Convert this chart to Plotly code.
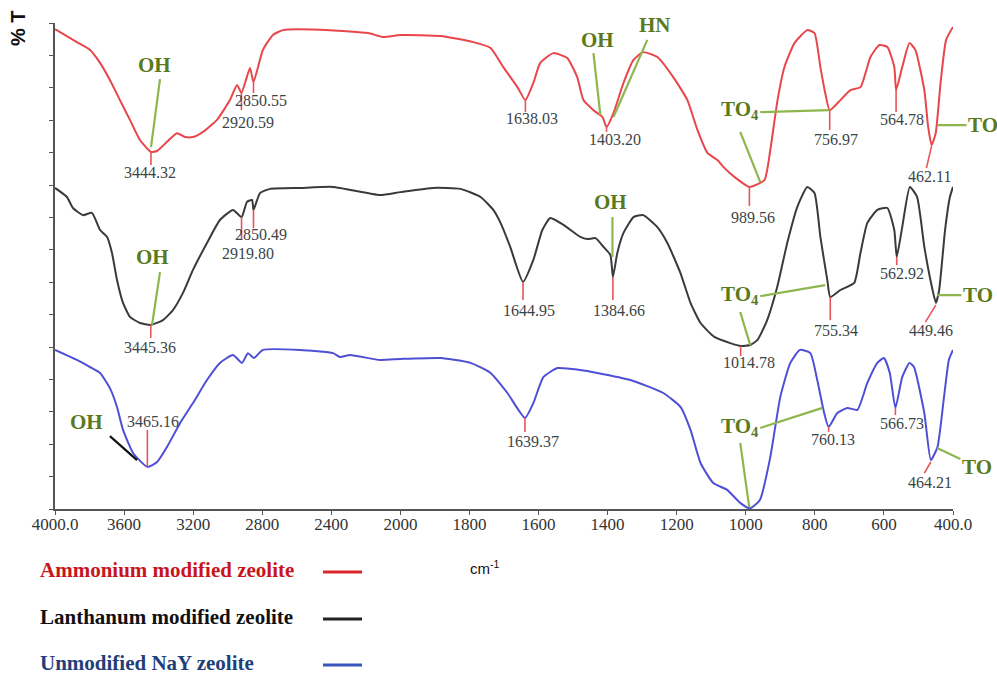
import plotly.graph_objects as go

# ---------------- data (wavenumber cm-1, transmittance in arbitrary %T units) ----------------
wn_ammonium = [4000, 3873, 3797, 3739, 3682, 3624, 3566, 3508, 3444.32, 3409, 3352, 3294, 3247, 3201,
               3143, 3062, 2987, 2946, 2920.59, 2871, 2850.55, 2796, 2738, 2680, 2408, 2188, 2101, 2000,
               1884, 1789, 1739, 1702, 1661, 1638.03, 1615, 1595, 1557, 1517, 1488, 1470, 1441, 1415,
               1403.20, 1383, 1354, 1325, 1297, 1256, 1210, 1169, 1140, 1111, 1082, 1065, 1033, 989.56,
               946, 929, 908, 888, 859, 822, 801, 784, 770, 756.97, 726, 697, 668, 639, 613, 590, 570,
               564.78, 547, 526, 509, 483, 472, 462.11, 450, 436, 420, 400]
t_ammonium = [148.1, 144.1, 141.7, 137.7, 132.4, 126.2, 120.1, 113.9, 110.2, 110.5, 113.3, 116.0, 114.8, 114.8,
              116.4, 120.1, 126.2, 130.9, 128.4, 136.1, 131.8, 141.7, 146.3, 147.8, 147.8, 146.9, 145.7, 146.3,
              146.0, 144.1, 142.3, 136.4, 130.2, 126.2, 131.5, 137.7, 140.7, 139.2, 133.3, 126.2, 123.1, 121.0,
              117.9, 122.2, 131.5, 138.6, 141.0, 139.5, 133.3, 126.2, 117.0, 109.9, 107.7, 105.6, 102.5, 99.4,
              101.5, 110.8, 126.2, 136.4, 143.8, 147.8, 146.9, 136.4, 128.4, 123.1, 126.2, 129.3, 130.2, 139.5,
              143.2, 142.6, 136.4, 129.3, 136.4, 143.8, 141.7, 129.3, 118.0, 112.3, 116.0, 131.5, 144.8, 148.8]

wn_lanthanum = [4000, 3931, 3896, 3838, 3786, 3739, 3699, 3670, 3641, 3606, 3566, 3508, 3445.36, 3375, 3317,
                3259, 3201, 3120, 3045, 2969, 2919.80, 2888, 2859, 2850.49, 2813, 2755, 2581, 2390, 2118,
                2000, 1904, 1826, 1768, 1731, 1710, 1682, 1644.95, 1615, 1589, 1566, 1528, 1479, 1459,
                1435, 1412, 1392, 1384.66, 1372, 1354, 1325, 1297, 1256, 1227, 1189, 1160, 1131, 1091, 1045,
                1014.78, 987, 966, 938, 909, 880, 851, 822, 801, 784, 764, 755.34, 726, 686, 668, 648, 619,
                590, 570, 562.92, 547, 525, 504, 483, 460, 449.46, 440, 423, 409, 400]
t_lanthanum = [99.1, 96.3, 92.9, 90.7, 91.4, 86.1, 84.0, 79.0, 70.7, 63.6, 59.3, 57.4, 56.8, 58.3, 61.4,
               66.7, 73.8, 82.1, 89.2, 92.3, 90.1, 94.8, 95.4, 92.3, 97.5, 98.8, 99.1, 99.4, 96.9,
               97.8, 99.1, 98.8, 96.3, 92.3, 88.3, 80.9, 70.1, 76.9, 86.1, 89.8, 87.7, 84.0, 83.3,
               83.6, 80.9, 78.4, 71.6, 79.0, 85.2, 90.1, 90.7, 87.0, 82.1, 72.8, 63.6, 57.4, 53.1, 51.2,
               50.3, 50.6, 52.2, 58.3, 68.5, 82.1, 93.2, 99.4, 97.5, 84.0, 70.7, 65.4, 67.6, 69.8, 79.0, 88.3, 92.3,
               92.9, 86.1, 77.8, 87.0, 99.4, 96.3, 80.9, 68.0, 63.6, 67.6, 86.1, 96.3, 99.4]

wn_nay = [4000, 3873, 3797, 3739, 3682, 3641, 3606, 3548, 3465.16, 3409, 3352, 3276, 3201, 3120, 3045,
          2969, 2917, 2883, 2848, 2796, 2581, 2390, 2350, 2292, 2118, 2000, 1884, 1797, 1739, 1690,
          1639.37, 1615, 1586, 1545, 1479, 1430, 1334, 1239, 1189, 1160, 1131, 1094, 1054, 1016, 988,
          959, 929, 900, 871, 843, 813, 793, 773, 760.13, 735, 706, 677, 648, 619, 600, 583, 566.73,
          547, 526, 513, 483, 464.21, 445, 426, 412, 400]
t_nay = [49.1, 46.0, 43.8, 42.0, 37.3, 31.5, 24.4, 17.3, 13.0, 14.5, 19.1, 26.5, 32.7, 39.8, 45.1,
         47.5, 45.1, 48.1, 46.6, 49.1, 49.1, 48.1, 46.9, 47.5, 46.0, 46.3, 46.6, 45.1, 42.0, 35.8,
         28.1, 32.7, 40.7, 43.5, 42.9, 42.0, 39.8, 35.8, 31.5, 24.4, 14.2, 8.0, 5.9, 1.9, 0.2,
         2.8, 16.0, 34.6, 45.1, 49.1, 48.1, 39.8, 29.6, 25.3, 29.6, 31.2, 30.6, 38.9, 45.1, 46.6, 42.0, 31.2,
         40.7, 45.1, 43.8, 29.6, 15.1, 19.1, 34.6, 46.0, 49.1]

series_names = ["Ammonium modified zeolite", "Lanthanum modified zeolite", "Unmodified NaY zeolite"]

xtick_wn = [4000, 3600, 3200, 2800, 2400, 2000, 1800, 1600, 1400, 1200, 1000, 800, 600, 400]
xtick_text = ["4000.0", "3600", "3200", "2800", "2400", "2000", "1800", "1600", "1400", "1200",
              "1000", "800", "600", "400.0"]

# peak value labels: (text, wavenumber, T)
peak_labels = [
    ("3444.32", 3450, 104.0), ("2850.55", 2807, 126.2), ("2920.59", 2883, 119.4), ("1638.03", 1618, 120.4),
    ("1403.20", 1380, 113.9), ("989.56", 978, 90.1), ("756.97", 738, 113.9), ("564.78", 547, 120.1),
    ("462.11", 467, 102.5),
    ("3445.36", 3450, 49.7), ("2850.49", 2807, 84.6), ("2919.80", 2883, 79.0), ("1644.95", 1627, 61.4),
    ("1384.66", 1366, 61.4), ("1014.78", 992, 45.1), ("755.34", 738, 55.2), ("562.92", 547, 72.8),
    ("449.46", 464, 55.2),
    ("3465.16", 3433, 26.9), ("1639.37", 1615, 20.7), ("760.13", 747, 21.3), ("566.73", 547, 26.5),
    ("464.21", 467, 8.3),
]
# red marker strokes linking peaks to labels: (wn0, T0, wn1, T1)
peak_ticks = [
    (3444.32, 110.2, 3444.32, 106.2), (2920.59, 128.4, 2920.59, 123.1), (2850.55, 131.8, 2850.55, 128.4),
    (1638.03, 126.2, 1638.03, 122.5), (1403.20, 117.9, 1403.20, 116.4), (989.56, 99.4, 989.56, 93.5),
    (756.97, 123.1, 756.97, 117.0), (564.78, 129.3, 564.78, 122.5), (462.11, 112.0, 477, 105.2),
    (3445.36, 56.8, 3445.36, 52.8), (2919.80, 90.1, 2919.80, 83.0), (2850.49, 92.3, 2850.49, 86.7),
    (1644.95, 70.1, 1644.95, 64.5), (1384.66, 71.6, 1384.66, 64.5), (1014.78, 50.3, 1014.78, 47.2),
    (755.34, 65.4, 755.34, 58.3), (562.92, 77.8, 562.92, 75.3), (449.46, 63.0, 480, 57.7),
    (3465.16, 13.0, 3465.16, 24.4), (1639.37, 28.1, 1639.37, 23.8), (760.13, 25.3, 760.13, 23.8),
    (566.73, 31.2, 566.73, 29.0), (464.21, 14.5, 483, 11.1),
]
# functional-group labels: (text, wavenumber, T)
group_labels = [
    ("OH", 3421, 137.0), ("OH", 1430, 144.8), ("HN", 1262, 149.4), ("TO<sub>4</sub>", 1016, 123.1),
    ("OH", 3433, 77.8), ("OH", 1392, 94.8), ("TO<sub>4</sub>", 1016, 66.0),
    ("OH", 3815, 26.9), ("TO<sub>4</sub>", 1016, 25.3),
]
# group leader lines: (wn0, T0, wn1, T1, colour)
group_lines = [
    (3392, 132.7, 3444, 111.7, "g"), (1441, 140.7, 1421, 121.6, "g"), (1285, 144.8, 1383, 121.0, "g"),
    (1016, 116.4, 958, 100.9, "g"), (958, 122.5, 758, 123.1, "g"),
    (3392, 73.1, 3438, 56.8, "g"), (1386, 90.1, 1386, 77.8, "g"), (1016, 60.8, 987, 50.6, "g"),
    (958, 65.7, 770, 69.1, "g"),
    (3682, 22.5, 3525, 15.1, "k"), (1016, 20.4, 990, 0.6, "g"), (958, 25.0, 778, 31.2, "g"),
]
# "TO" labels placed right of the plot: (tip wn, tip T, label wn, label T)
to_labels = [(446, 118.5, 313, 118.5), (446, 66.0, 328, 66.0), (446, 18.8, 331, 13.0)]


def X(w):
    """FTIR abscissa: the scale is compressed by half above 2000 cm-1."""
    return w if w <= 2000 else 2000 + (w - 2000) / 2


RED, BLACK, BLUE = "#E8464B", "#3A3A3A", "#4F4FD6"
GREEN_TXT, GREEN_LN = "#5B7A1C", "#8DB64E"
SERIF = "Liberation Serif"

fig = go.Figure()
for wn, t, c, name in [(wn_ammonium, t_ammonium, RED, series_names[0]),
                       (wn_lanthanum, t_lanthanum, BLACK, series_names[1]),
                       (wn_nay, t_nay, BLUE, series_names[2])]:
    fig.add_trace(go.Scatter(x=[X(w) for w in wn], y=t, mode="lines", name=name,
                             line=dict(color=c, width=2, shape="spline", smoothing=0.5),
                             showlegend=False, hoverinfo="skip"))

annotations = []
shapes = []
for txt, w, t in peak_labels:
    annotations.append(dict(x=X(w), y=t, xref="x", yref="y", text=txt, showarrow=False,
                            font=dict(family=SERIF, size=16, color="#3B4547")))
for w0, t0, w1, t1 in peak_ticks:
    shapes.append(dict(type="line", xref="x", yref="y", x0=X(w0), y0=t0, x1=X(w1), y1=t1,
                       line=dict(color="#E8545A", width=1.6)))
for txt, w, t in group_labels:
    annotations.append(dict(x=X(w), y=t, xref="x", yref="y", text="<b>" + txt + "</b>", showarrow=False,
                            font=dict(family=SERIF, size=21, color=GREEN_TXT)))
for w0, t0, w1, t1, c in group_lines:
    shapes.append(dict(type="line", xref="x", yref="y", x0=X(w0), y0=t0, x1=X(w1), y1=t1,
                       line=dict(color=GREEN_LN if c == "g" else "#111111", width=2.2)))
for wt, tt, wl, tl in to_labels:
    annotations.append(dict(x=X(wt), y=tt, xref="x", yref="y", ax=X(wl), ay=tl, axref="x", ayref="y",
                            text="<b>TO</b>", showarrow=True, arrowhead=0, arrowwidth=2.2,
                            arrowcolor=GREEN_LN, standoff=0,
                            font=dict(family=SERIF, size=21, color=GREEN_TXT)))

# axis captions
annotations.append(dict(x=-0.041, y=0.99, xref="paper", yref="paper", xanchor="center", yanchor="middle",
                        text="<b>% T</b>", textangle=-90, showarrow=False,
                        font=dict(family="Liberation Sans", size=20, color="#111111")))
annotations.append(dict(x=0.478, y=-0.121, xref="paper", yref="paper", xanchor="center", yanchor="middle",
                        text="cm<sup>-1</sup>", showarrow=False,
                        font=dict(family="Liberation Sans", size=15, color="#111111")))

# custom legend (text first, then a coloured dash)
legend_txt_col = ["#C8161D", "#111111", "#1F3F7A"]
legend_ln_col = ["#D9262B", "#222222", "#3A55C0"]
legend_y = [-0.1255, -0.2222, -0.3169]
for name, tc, lc, ly in zip(series_names, legend_txt_col, legend_ln_col, legend_y):
    annotations.append(dict(x=-0.019, y=ly, xref="paper", yref="paper", xanchor="left", yanchor="middle",
                            text="<b>" + name + "</b>", showarrow=False,
                            font=dict(family=SERIF, size=21, color=tc)))
    shapes.append(dict(type="line", xref="paper", yref="paper", x0=0.2984, x1=0.3419, y0=ly - 0.004,
                       y1=ly - 0.004, line=dict(color=lc, width=3)))

fig.update_layout(
    width=997, height=677,
    margin=dict(l=55, r=44, t=23, b=168),
    paper_bgcolor="white", plot_bgcolor="white",
    annotations=annotations, shapes=shapes,
    xaxis=dict(range=[X(4000), X(400)], tickvals=[X(w) for w in xtick_wn], ticktext=xtick_text,
               showgrid=False, zeroline=False, showline=True, linecolor="#555555", linewidth=1.5,
               ticks="outside", ticklen=4, tickcolor="#555555", ticklabelstandoff=-5,
               tickfont=dict(family=SERIF, size=17, color="#333333")),
    yaxis=dict(range=[0, 150], dtick=10, showticklabels=False, showgrid=False, zeroline=False,
               showline=True, linecolor="#555555", linewidth=1.5, ticks="outside", ticklen=4,
               tickcolor="#555555"),
)

fig.write_html("out.html", config={"displayModeBar": False},
               post_script="document.body.style.margin='0px';document.body.style.overflow='hidden';")
